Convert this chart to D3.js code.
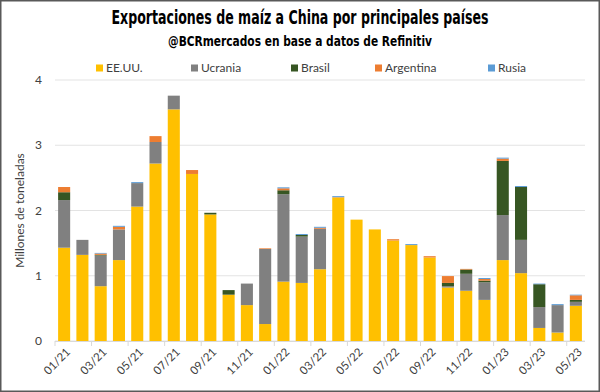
<!DOCTYPE html>
<html>
<head>
<meta charset="utf-8">
<script src="https://cdn.jsdelivr.net/npm/d3@7"></script>
<style>
  body { margin: 0; background: #fff; }
  text { font-family: Lato, "Liberation Sans", sans-serif; }
</style>
</head>
<body>
<script>
// meses 01/21 .. 05/23
const months = ["01/21","02/21","03/21","04/21","05/21","06/21","07/21","08/21","09/21","10/21","11/21","12/21",
                "01/22","02/22","03/22","04/22","05/22","06/22","07/22","08/22","09/22","10/22","11/22","12/22",
                "01/23","02/23","03/23","04/23","05/23"];
const eeuu      = [1.43,1.32,0.84,1.24,2.06,2.72,3.55,2.56,1.94,0.71,0.55,0.26,0.91,0.89,1.10,2.20,1.86,1.71,1.54,1.47,1.28,0.82,0.77,0.63,1.24,1.04,0.20,0.13,0.54];
const ucrania   = [0.73,0.23,0.47,0.47,0.36,0.33,0.21,0,0,0,0.33,1.15,1.34,0.71,0.62,0,0,0,0,0,0,0.02,0.26,0.27,0.69,0.51,0.32,0.42,0.06];
const brasil    = [0.12,0,0.01,0,0,0,0,0,0.025,0.07,0,0,0.06,0.025,0,0,0,0,0,0,0,0.05,0.065,0.025,0.83,0.81,0.35,0,0.03];
const argentina = [0.08,0,0.02,0.04,0,0.09,0,0.06,0,0,0,0.01,0.03,0,0.015,0.005,0,0,0.02,0,0.02,0.105,0.01,0.025,0.035,0,0,0,0.07];
const rusia     = [0,0,0.01,0.015,0.015,0,0,0,0,0,0,0,0.015,0.015,0.015,0.015,0,0,0,0.015,0,0,0,0.015,0.015,0.015,0.01,0.015,0.01];
const seriesNames = ["EE.UU.","Ucrania","Brasil","Argentina","Rusia"];
const colors = ["#FFC000","#808080","#375623","#ED7D31","#5B9BD5"];
const yTicks = [0,1,2,3,4];
const xLabels = ["01/21","03/21","05/21","07/21","09/21","11/21","01/22","03/22","05/22","07/22","09/22","11/22","01/23","03/23","05/23"];

const W = 600, H = 392;
const m = {left: 55, right: 15, top: 80, bottom: 51};

const svg = d3.select("body").append("svg").attr("width", W).attr("height", H);

svg.append("rect").attr("x", 0.75).attr("y", 0.75).attr("width", W - 1.5).attr("height", H - 1.5)
   .attr("fill", "#fff").attr("stroke", "#595959").attr("stroke-width", 1.5);

const x = d3.scaleBand().domain(months).range([m.left, W - m.right]).paddingInner(0.34).paddingOuter(0.17);
const y = d3.scaleLinear().domain([0, 4]).range([H - m.bottom, m.top]);

// grid
svg.append("g").selectAll("line").data(yTicks).enter().append("line")
   .attr("x1", m.left).attr("x2", W - m.right)
   .attr("y1", d => y(d)).attr("y2", d => y(d))
   .attr("stroke", "#e3e3e3").attr("stroke-width", 1);

svg.append("g").selectAll("text").data(yTicks).enter().append("text")
   .attr("x", 42).attr("y", d => y(d)).attr("dy", "0.35em")
   .attr("text-anchor", "end").attr("font-size", 12).attr("fill", "#404040")
   .text(d => d);

// stacked bars
const table = months.map((mo, i) => ({month: mo, "EE.UU.": eeuu[i], "Ucrania": ucrania[i], "Brasil": brasil[i], "Argentina": argentina[i], "Rusia": rusia[i]}));
const stack = d3.stack().keys(seriesNames)(table);

svg.append("g").selectAll("g").data(stack).enter().append("g")
   .attr("fill", (d, i) => colors[i])
   .selectAll("rect").data(d => d).enter().append("rect")
   .attr("x", d => x(d.data.month))
   .attr("width", x.bandwidth())
   .attr("y", d => y(d[1]))
   .attr("height", d => Math.max(0, y(d[0]) - y(d[1])));

// x axis
const step = x.step();
const base = H - m.bottom;
svg.append("line").attr("x1", m.left).attr("x2", W - m.right).attr("y1", base + 0.5).attr("y2", base + 0.5)
   .attr("stroke", "#d9d9d9");
const tickPos = d3.range(0, months.length + 1, 2).map(i => m.left + i * step);
svg.append("g").selectAll("line").data(tickPos).enter().append("line")
   .attr("x1", d => d).attr("x2", d => d).attr("y1", base).attr("y2", base + 5)
   .attr("stroke", "#d9d9d9");

svg.append("g").selectAll("text").data(xLabels).enter().append("text")
   .attr("transform", d => `translate(${x(d) + x.bandwidth() / 2 + 4},${base + 9}) rotate(-45)`)
   .attr("text-anchor", "end").attr("dy", "0.35em")
   .attr("font-size", 11.5).attr("fill", "#404040")
   .text(d => d);

// y label
svg.append("text")
   .attr("transform", `translate(20,${(m.top + base) / 2}) rotate(-90)`)
   .attr("text-anchor", "middle").attr("dy", "0.35em")
   .attr("font-size", 12).attr("fill", "#404040")
   .text("Millones de toneladas");

// title
svg.append("text").attr("x", W / 2).attr("y", 24).attr("text-anchor", "middle")
   .style("font-family", "'Liberation Sans Narrow', 'DejaVu Sans Condensed', sans-serif")
   .attr("font-weight", "bold").attr("font-size", 19).attr("fill", "#000")
   .attr("textLength", 377).attr("lengthAdjust", "spacingAndGlyphs")
   .text("Exportaciones de maíz a China por principales países");
svg.append("text").attr("x", W / 2).attr("y", 46).attr("text-anchor", "middle")
   .style("font-family", "'Liberation Sans Narrow', 'DejaVu Sans Condensed', sans-serif")
   .attr("font-weight", "bold").attr("font-size", 14).attr("fill", "#000")
   .attr("textLength", 264).attr("lengthAdjust", "spacingAndGlyphs")
   .text("@BCRmercados en base a datos de Refinitiv");

// legend
const legX = [96, 191, 291, 375, 488];
const leg = svg.append("g").selectAll("g").data(seriesNames).enter().append("g")
   .attr("transform", (d, i) => `translate(${legX[i]},68)`);
leg.append("rect").attr("x", 0).attr("y", -3.5).attr("width", 7).attr("height", 7).attr("fill", (d, i) => colors[i]);
leg.append("text").attr("x", 10).attr("dy", "0.35em").attr("font-size", 12).attr("fill", "#404040").text(d => d);
</script>
</body>
</html>
